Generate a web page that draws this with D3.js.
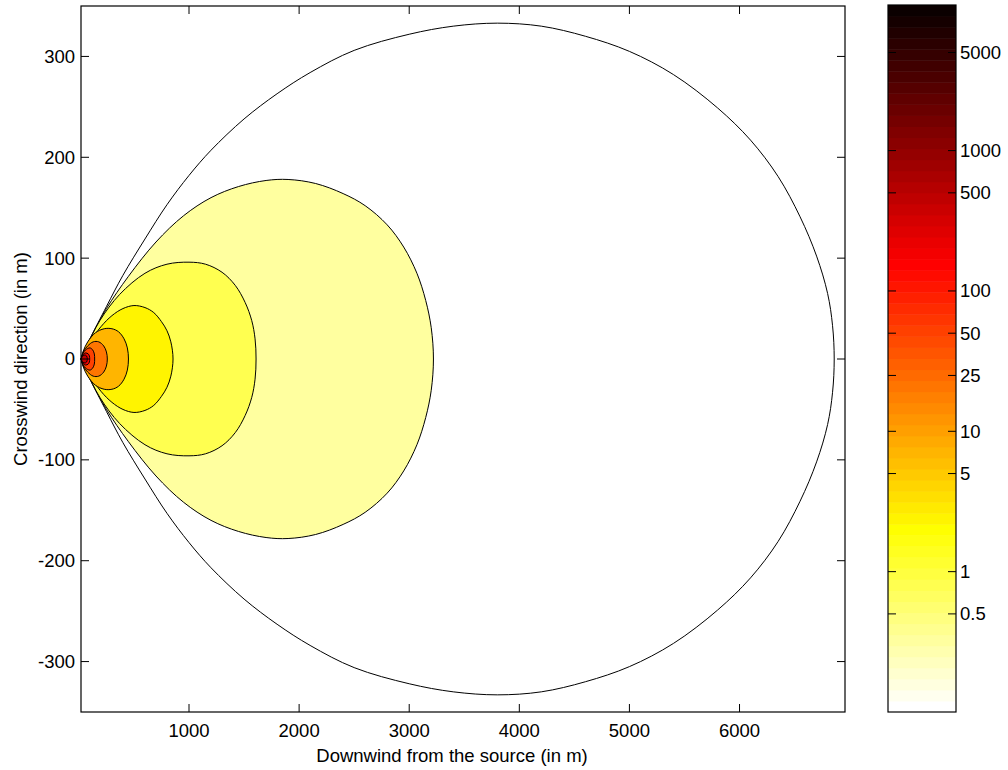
<!DOCTYPE html>
<html>
<head>
<meta charset="utf-8">
<script src="https://cdn.jsdelivr.net/npm/d3@7"></script>
<style>
  body { margin: 0; background: #fff; }
  text { font-family: "Liberation Sans", Arial, sans-serif; font-size: 18.5px; fill: #000; }
</style>
</head>
<body>
<div id="plume"></div>
<script>
// contour levels (concentration), outer to inner
var levels = [0.5, 1, 5, 10, 25, 50, 100, 500, 1000];

// upper half of each contour, [downwind m, crosswind m]
var c_0_5 = [[20,0],[50,9],[100,20],[250,52],[400,83],[600,119],[800,153],[1000,182],[1200,207],[1500,238],[1800,263],[2100,284],[2500,306],[3000,322],[3400,330],[3800,333],[4200,330],[4600,320],[5000,305],[5400,282],[5800,249],[6100,217],[6350,181],[6550,141],[6700,102],[6800,65],[6845,33],[6860,0]];
var c_1 = [[20,0],[60,10],[120,24],[250,50],[450,82],[700,116],[950,142],[1200,160],[1450,171],[1700,177],[1900,178],[2150,174],[2400,164],[2600,152],[2800,133],[2950,111],[3070,85],[3150,58],[3200,31],[3220,0]];
var c_5 = [[20,0],[70,12],[190,38],[370,64],[600,85],[800,94],[1000,96],[1150,94],[1300,86],[1420,73],[1510,56],[1570,38],[1600,20],[1609,0]];
var c_10 = [[20,0],[50,8],[100,17],[200,32],[300,43],[400,50],[500,53],[600,51],[680,46],[750,37],[800,28],[835,17],[855,0]];
var c_25 = [[20,0],[40,8],[80,17],[150,26],[230,30],[300,30],[360,27],[410,20],[440,11],[450,0]];
var c_50 = [[20,0],[40,7],[80,13],[130,17],[180,17],[225,13],[250,7],[258,0]];
var c_100 = [[20,0],[35,5],[60,9],[100,11],[125,9],[140,5],[143,0]];
var c_500 = [[20,0],[35,4],[60,6],[85,5],[95,3],[98,0]];
var c_1000 = [[20,0],[35,3],[55,4],[70,3],[76,0]];
var contours = [c_0_5, c_1, c_5, c_10, c_25, c_50, c_100, c_500, c_1000];

var xTicks = [1000, 2000, 3000, 4000, 5000, 6000];
var yTicks = [-300, -200, -100, 0, 100, 200, 300];
var cbTicks = [0.5, 1, 5, 10, 25, 50, 100, 500, 1000, 5000];

var W = 1008, H = 770;
var plot = {left: 81, right: 845, top: 6, bottom: 712};
var cb = {left: 888, right: 956, top: 5, bottom: 712};

var svg = d3.select("#plume").append("svg")
    .attr("width", W).attr("height", H);

var x = d3.scaleLinear().domain([19, 6958]).range([plot.left, plot.right]);
var y = d3.scaleLinear().domain([-350, 350]).range([plot.bottom, plot.top]);

// matlab style hot map, 64 entries
function hot(k) { // k = 1..64
  var r = k <= 24 ? k / 24 : 1;
  var g = k <= 24 ? 0 : (k <= 48 ? (k - 24) / 24 : 1);
  var b = k <= 48 ? 0 : (k - 48) / 16;
  return d3.rgb(r * 255, g * 255, b * 255).formatHex();
}
function hotFlip(f) { // f in [0,1], 0 = white
  return hot(64 - Math.round(f * 63));
}

// filled contours, mirrored about the plume axis
var line = d3.line()
    .x(function(d) { return x(d[0]); })
    .y(function(d) { return y(d[1]); })
    .curve(d3.curveCatmullRom);

var g = svg.append("g");
contours.forEach(function(c, i) {
  var lower = c.slice(0, -1).reverse().map(function(d) { return [d[0], -d[1]]; });
  var pts = c.concat(lower);
  g.append("path")
    .attr("d", line(pts) + "Z")
    .attr("fill", hotFlip(i / 11))
    .attr("stroke", "#000")
    .attr("stroke-width", 1);
});

// axes box
svg.append("rect")
    .attr("x", plot.left).attr("y", plot.top)
    .attr("width", plot.right - plot.left).attr("height", plot.bottom - plot.top)
    .attr("fill", "none").attr("stroke", "#000").attr("stroke-width", 1.2);

var tk = 8;
var ax = svg.append("g").attr("stroke", "#000").attr("stroke-width", 1);
xTicks.forEach(function(v) {
  ax.append("line").attr("x1", x(v)).attr("x2", x(v)).attr("y1", plot.bottom).attr("y2", plot.bottom - tk);
  ax.append("line").attr("x1", x(v)).attr("x2", x(v)).attr("y1", plot.top).attr("y2", plot.top + tk);
});
yTicks.forEach(function(v) {
  ax.append("line").attr("x1", plot.left).attr("x2", plot.left + tk).attr("y1", y(v)).attr("y2", y(v));
  ax.append("line").attr("x1", plot.right).attr("x2", plot.right - tk).attr("y1", y(v)).attr("y2", y(v));
});

svg.append("g").selectAll("text").data(xTicks).enter().append("text")
    .attr("x", function(d) { return x(d); })
    .attr("y", 737)
    .attr("text-anchor", "middle")
    .text(function(d) { return d; });

svg.append("g").selectAll("text").data(yTicks).enter().append("text")
    .attr("x", 75)
    .attr("y", function(d) { return y(d); })
    .attr("dy", "0.35em")
    .attr("text-anchor", "end")
    .text(function(d) { return d; });

svg.append("text")
    .attr("x", 452)
    .attr("y", 762)
    .attr("text-anchor", "middle")
    .text("Downwind from the source (in m)");

svg.append("text")
    .attr("transform", "translate(27," + ((plot.top + plot.bottom) / 2) + ") rotate(-90)")
    .attr("text-anchor", "middle")
    .text("Crosswind direction (in m)");

// colorbar, 64 bands on a log scale
var c = d3.scaleLog().domain([0.1, 10900]).range([cb.bottom, cb.top]);
var bandH = (cb.bottom - cb.top) / 64;
svg.append("g").selectAll("rect").data(d3.range(64)).enter().append("rect")
    .attr("x", cb.left)
    .attr("y", function(i) { return cb.bottom - (i + 1) * bandH; })
    .attr("width", cb.right - cb.left)
    .attr("height", bandH + 0.5)
    .attr("fill", function(i) { return hot(64 - i); });

svg.append("rect")
    .attr("x", cb.left).attr("y", cb.top)
    .attr("width", cb.right - cb.left).attr("height", cb.bottom - cb.top)
    .attr("fill", "none").attr("stroke", "#000").attr("stroke-width", 1.2);

var cax = svg.append("g").attr("stroke", "#000").attr("stroke-width", 1);
cbTicks.forEach(function(v) {
  cax.append("line").attr("x1", cb.left).attr("x2", cb.left + tk).attr("y1", c(v)).attr("y2", c(v));
  cax.append("line").attr("x1", cb.right).attr("x2", cb.right - tk).attr("y1", c(v)).attr("y2", c(v));
});

svg.append("g").selectAll("text").data(cbTicks).enter().append("text")
    .attr("x", 960)
    .attr("y", function(d) { return c(d); })
    .attr("dy", "0.35em")
    .text(function(d) { return d; });
</script>
</body>
</html>
